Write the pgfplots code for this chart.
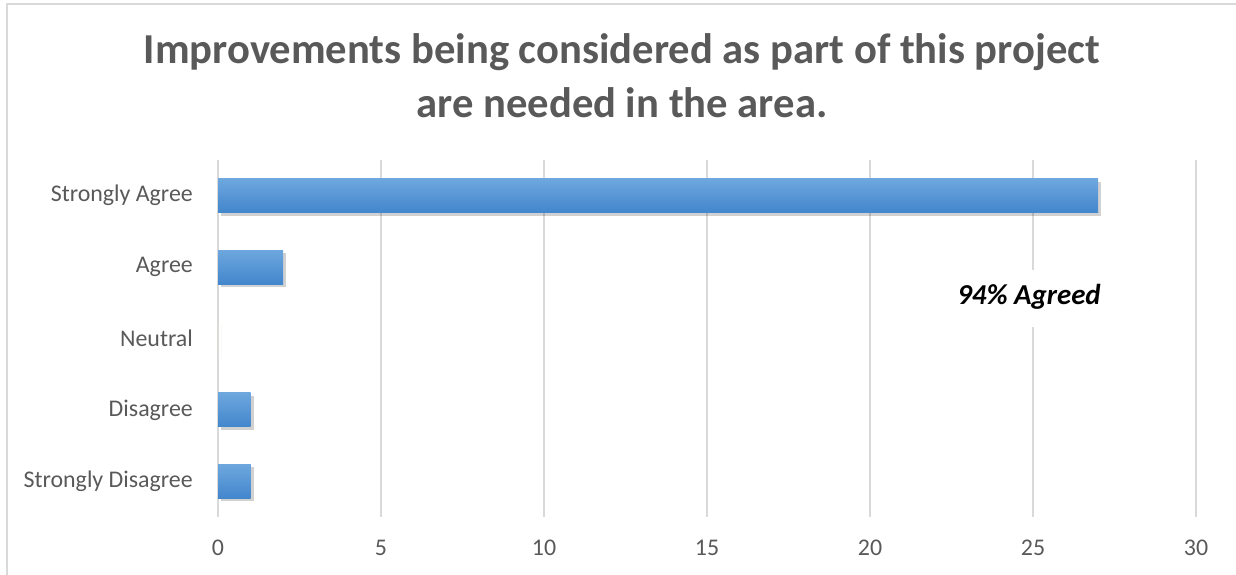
\documentclass[border=0pt]{standalone}
\usepackage{pgfplots}
\pgfplotsset{compat=1.18}
\usepackage{fontspec}
\setmainfont{Carlito}
\definecolor{txtc}{RGB}{89,89,89}
\definecolor{gridc}{RGB}{217,217,217}
\definecolor{bartop}{RGB}{110,167,222}
\definecolor{barbot}{RGB}{66,134,204}
\begin{document}
\begin{tikzpicture}[x=1bp,y=1bp]
\useasboundingbox (0,0) rectangle (1236,575);
\begin{scope}
\clip (0,0) rectangle (1236,575);
\draw[draw=gridc, line width=2bp] (7,-10) -- (7,571) -- (1250,571);
\end{scope}
\node[anchor=base, text=txtc, font=\fontsize{42.8}{50}\selectfont\bfseries] at (622,511) {Improvements being considered as part of this project};
\node[anchor=base, text=txtc, font=\fontsize{42.8}{50}\selectfont\bfseries] at (622,457) {are needed in the area.};
\begin{axis}[
  at={(218bp,58bp)}, anchor=south west,
  width=978bp, height=357bp, scale only axis,
  xmin=0, xmax=30, ymin=-0.5, ymax=4.5,
  xtick={0,5,...,30},
  ytick={0,1,2,3,4},
  yticklabels={Strongly Disagree, Disagree, Neutral, Agree, Strongly Agree},
  major tick length=0pt,
  tick style={draw=none},
  axis line style={draw=none},
  xmajorgrids, ymajorgrids=false,
  major grid style={draw=gridc, line width=2bp},
  xticklabel style={anchor=center, yshift=-31bp, text=txtc, font=\fontsize{24}{28}\selectfont, inner sep=0pt},
  yticklabel style={anchor=east, xshift=-25bp, text=txtc, font=\fontsize{24}{28}\selectfont, inner sep=0pt},
  /pgf/number format/assume math mode=true,
  xbar, bar width=34bp, bar shift=0pt,
  clip=false,
  every axis plot/.append style={draw=none, fill=none,
    preaction={fill=black, fill opacity=0.18, transform canvas={xshift=3bp, yshift=-3bp}},
    postaction={top color=bartop, bottom color=barbot}},
]
\addplot coordinates {(1,0)};
\addplot coordinates {(1,1)};
\addplot coordinates {(0,2)};
\addplot coordinates {(2,3)};
\addplot coordinates {(27,4)};
\end{axis}
\node[fill=white, inner sep=0pt, minimum height=57bp, minimum width=150bp, anchor=base, text depth=22bp, text height=35bp, font=\fontsize{29}{34}\selectfont\bfseries\itshape] at (1029,270) {94\% Agreed};
\end{tikzpicture}
\end{document}
